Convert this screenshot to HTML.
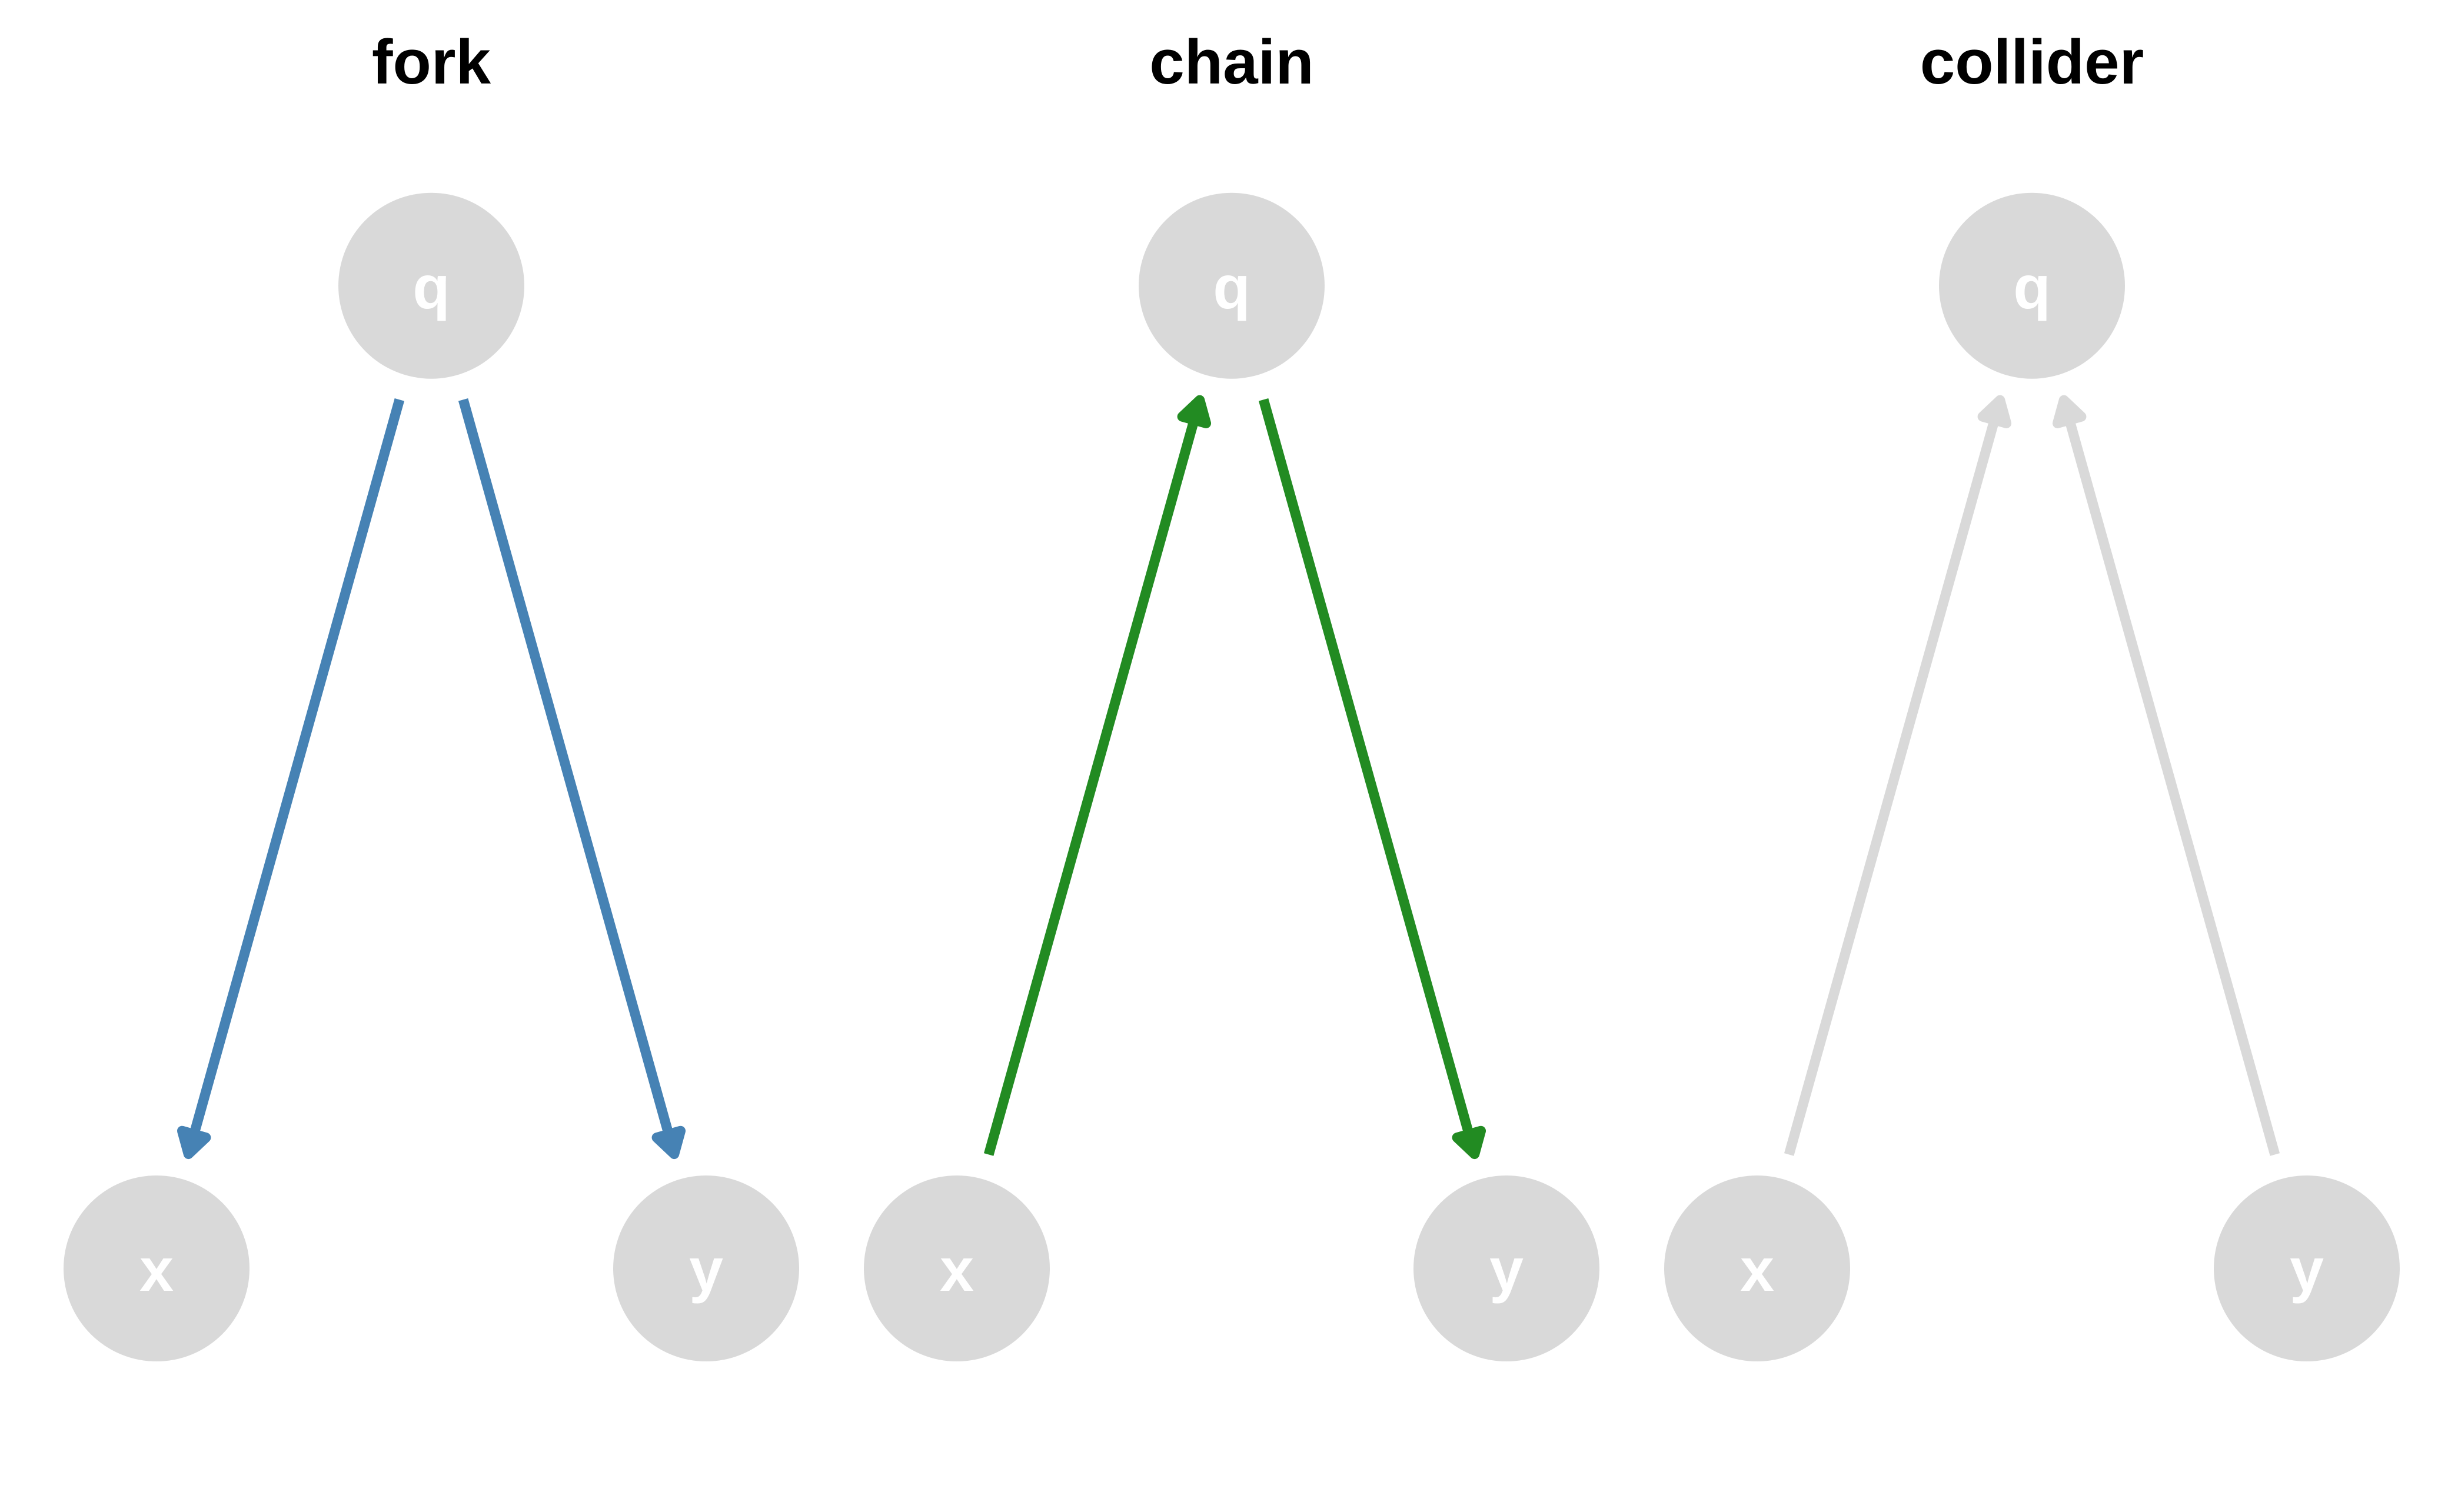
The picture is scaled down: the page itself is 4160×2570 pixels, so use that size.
<!DOCTYPE html>
<html>
<head>
<meta charset="utf-8">
<style>
  html, body { margin: 0; padding: 0; background: #ffffff; }
  svg { display: block; }
  .title { font-family: "Liberation Sans", Arial, sans-serif; font-weight: bold; font-size: 107px; fill: #000000; }
  .lab { font-family: "Liberation Sans", Arial, sans-serif; font-weight: bold; font-size: 104px; fill: #ffffff; }
</style>
</head>
<body>
<svg width="4160" height="2570" viewBox="0 0 4160 2570" xmlns="http://www.w3.org/2000/svg">
  <rect x="0" y="0" width="4160" height="2570" fill="#ffffff"/>

  <!-- Titles -->
  <text class="title" x="733" y="142" text-anchor="middle">fork</text>
  <text class="title" x="2093" y="142" text-anchor="middle">chain</text>
  <text class="title" x="3453" y="142" text-anchor="middle">collider</text>

  <!-- Edges: each group placed at start point, rotated along direction -->
  <!-- fork: q -> x -->
  <g transform="translate(678.87,679.28) rotate(105.624)" fill="#4682B4" stroke="#4682B4">
    <line x1="0" y1="0" x2="1300" y2="0" stroke-width="17" stroke-linecap="butt"/>
    <polygon points="1331.5,0 1296.5,-21 1296.5,21" stroke-width="17" stroke-linejoin="round"/>
  </g>
  <!-- fork: q -> y -->
  <g transform="translate(787.13,679.28) rotate(74.376)" fill="#4682B4" stroke="#4682B4">
    <line x1="0" y1="0" x2="1300" y2="0" stroke-width="17" stroke-linecap="butt"/>
    <polygon points="1331.5,0 1296.5,-21 1296.5,21" stroke-width="17" stroke-linejoin="round"/>
  </g>

  <!-- chain: x -> q -->
  <g transform="translate(1680.13,1962.42) rotate(-74.376)" fill="#228B22" stroke="#228B22">
    <line x1="0" y1="0" x2="1300" y2="0" stroke-width="17" stroke-linecap="butt"/>
    <polygon points="1331.5,0 1296.5,-21 1296.5,21" stroke-width="17" stroke-linejoin="round"/>
  </g>
  <!-- chain: q -> y -->
  <g transform="translate(2147.13,679.28) rotate(74.376)" fill="#228B22" stroke="#228B22">
    <line x1="0" y1="0" x2="1300" y2="0" stroke-width="17" stroke-linecap="butt"/>
    <polygon points="1331.5,0 1296.5,-21 1296.5,21" stroke-width="17" stroke-linejoin="round"/>
  </g>

  <!-- collider: x -> q -->
  <g transform="translate(3040.13,1962.42) rotate(-74.376)" fill="#D9D9D9" stroke="#D9D9D9">
    <line x1="0" y1="0" x2="1300" y2="0" stroke-width="17" stroke-linecap="butt"/>
    <polygon points="1331.5,0 1296.5,-21 1296.5,21" stroke-width="17" stroke-linejoin="round"/>
  </g>
  <!-- collider: y -> q -->
  <g transform="translate(3865.87,1962.42) rotate(-105.624)" fill="#D9D9D9" stroke="#D9D9D9">
    <line x1="0" y1="0" x2="1300" y2="0" stroke-width="17" stroke-linecap="butt"/>
    <polygon points="1331.5,0 1296.5,-21 1296.5,21" stroke-width="17" stroke-linejoin="round"/>
  </g>

  <!-- Nodes -->
  <g fill="#D9D9D9">
    <circle cx="733" cy="485.7" r="158"/>
    <circle cx="266" cy="2156" r="158"/>
    <circle cx="1200" cy="2156" r="158"/>

    <circle cx="2093" cy="485.7" r="158"/>
    <circle cx="1626" cy="2156" r="158"/>
    <circle cx="2560" cy="2156" r="158"/>

    <circle cx="3453" cy="485.7" r="158"/>
    <circle cx="2986" cy="2156" r="158"/>
    <circle cx="3920" cy="2156" r="158"/>
  </g>

  <!-- Node labels -->
  <text class="lab" x="733" y="524" text-anchor="middle">q</text>
  <text class="lab" x="266" y="2194" text-anchor="middle">x</text>
  <text class="lab" x="1200" y="2194" text-anchor="middle">y</text>

  <text class="lab" x="2093" y="524" text-anchor="middle">q</text>
  <text class="lab" x="1626" y="2194" text-anchor="middle">x</text>
  <text class="lab" x="2560" y="2194" text-anchor="middle">y</text>

  <text class="lab" x="3453" y="524" text-anchor="middle">q</text>
  <text class="lab" x="2986" y="2194" text-anchor="middle">x</text>
  <text class="lab" x="3920" y="2194" text-anchor="middle">y</text>
</svg>
</body>
</html>
